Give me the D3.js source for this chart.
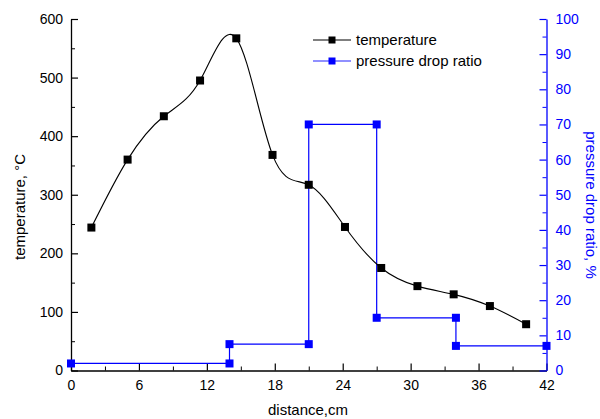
<!DOCTYPE html>
<html>
<head>
<meta charset="utf-8">
<script src="https://cdn.jsdelivr.net/npm/d3@7"></script>
<style>
  html, body { margin: 0; padding: 0; background: #fff; }
  svg { display: block; font-family: "Liberation Sans", Arial, sans-serif; }
</style>
</head>
<body>
<svg id="chart" width="600" height="419"></svg>
<script>
// ---- data ----
const tempDistance = [1.8, 5.0, 8.2, 11.4, 14.6, 17.8, 21.0, 24.2, 27.4, 30.6, 33.8, 37.0, 40.2];
const temperature  = [244, 360, 434, 495, 567, 368, 317, 245, 175, 144, 130, 110, 79];
const pressDistance = [0, 14, 14, 21, 21, 27, 27, 34, 34, 42];
const pressureDrop  = [2, 2, 7.5, 7.5, 70, 70, 15, 15, 7, 7];
const xTicks = [0, 6, 12, 18, 24, 30, 36, 42];
const yLeftTicks = [0, 100, 200, 300, 400, 500, 600];
const yRightTicks = [0, 10, 20, 30, 40, 50, 60, 70, 80, 90, 100];
const seriesNames = ["temperature", "pressure drop ratio"];

// ---- layout ----
const svg = d3.select("#chart");
const L = 71, R = 546.5, T = 19, B = 370.5;
const blue = "#0000ff";

const x = d3.scaleLinear().domain([0, 42]).range([L, R]);
const yL = d3.scaleLinear().domain([0, 600]).range([B, T]);
const yR = d3.scaleLinear().domain([0, 100]).range([B, T]);

function styleAxis(g, color) {
  g.select(".domain").attr("stroke", color).attr("stroke-width", 1.3);
  g.selectAll(".tick line").attr("stroke", color).attr("stroke-width", 1.2);
  g.selectAll(".tick text").attr("fill", color).attr("font-size", 14)
    .attr("font-family", '"Liberation Sans", Arial, sans-serif');
}

// minor ticks
const minorX = d3.range(3, 42, 6);
const minorYL = d3.range(50, 600, 100);
const minorYR = d3.range(5, 100, 10);

// bottom axis
const gx = svg.append("g").attr("transform", `translate(0,${B})`)
  .call(d3.axisBottom(x).tickValues(xTicks).tickSizeInner(-7).tickSizeOuter(0).tickPadding(10));
styleAxis(gx, "#000");
gx.selectAll(".tick text").attr("dy", "0.71em").attr("y", 10);
svg.append("g").attr("transform", `translate(0,${B})`)
  .call(d3.axisBottom(x).tickValues(minorX).tickSize(-4).tickFormat(""))
  .call(g => { g.select(".domain").remove(); g.selectAll("line").attr("stroke", "#000"); });

// left axis
const gyl = svg.append("g").attr("transform", `translate(${L},0)`)
  .call(d3.axisLeft(yL).tickValues(yLeftTicks).tickSizeInner(-7).tickSizeOuter(0).tickPadding(8));
styleAxis(gyl, "#000");
gyl.selectAll(".tick text").attr("x", -8);
svg.append("g").attr("transform", `translate(${L},0)`)
  .call(d3.axisLeft(yL).tickValues(minorYL).tickSize(-4).tickFormat(""))
  .call(g => { g.select(".domain").remove(); g.selectAll("line").attr("stroke", "#000"); });

// right axis
const gyr = svg.append("g").attr("transform", `translate(${R},0)`)
  .call(d3.axisRight(yR).tickValues(yRightTicks).tickSizeInner(-7).tickSizeOuter(0).tickPadding(8));
styleAxis(gyr, blue);
gyr.selectAll(".tick text").attr("x", 9);
svg.append("g").attr("transform", `translate(${R},0)`)
  .call(d3.axisRight(yR).tickValues(minorYR).tickSize(-4).tickFormat(""))
  .call(g => { g.select(".domain").remove(); g.selectAll("line").attr("stroke", blue); });

// ---- pressure series ----
const pData = pressDistance.map((d, i) => [d, pressureDrop[i]]);
svg.append("path").datum(pData)
  .attr("fill", "none").attr("stroke", blue).attr("stroke-width", 1.2)
  .attr("d", d3.line().x(d => x(d[0])).y(d => yR(d[1])));
svg.selectAll(".pm").data(pData).join("rect")
  .attr("x", d => x(d[0]) - 4).attr("y", d => yR(d[1]) - 4)
  .attr("width", 8).attr("height", 8).attr("fill", blue);

// ---- temperature series ----
const tData = tempDistance.map((d, i) => [d, temperature[i]]);
svg.append("path").datum(tData)
  .attr("fill", "none").attr("stroke", "#000").attr("stroke-width", 1.1)
  .attr("d", d3.line().curve(d3.curveNatural).x(d => x(d[0])).y(d => yL(d[1])));
svg.selectAll(".tm").data(tData).join("rect")
  .attr("x", d => x(d[0]) - 4).attr("y", d => yL(d[1]) - 4)
  .attr("width", 8).attr("height", 8).attr("fill", "#000");

// ---- legend ----
const legendColors = ["#555", "#6b6bff"];
const markerColors = ["#000", blue];
seriesNames.forEach((name, i) => {
  const y = 40 + i * 21;
  svg.append("line").attr("x1", 313).attr("x2", 351).attr("y1", y).attr("y2", y)
    .attr("stroke", legendColors[i]).attr("stroke-width", 1.5);
  svg.append("rect").attr("x", 332 - 3.5).attr("y", y - 3.5).attr("width", 7).attr("height", 7)
    .attr("fill", markerColors[i]);
  svg.append("text").attr("x", 356).attr("y", y + 5).attr("font-size", 15).attr("fill", "#000")
    .text(name);
});

// ---- axis titles ----
svg.append("text").attr("transform", "translate(25,207) rotate(-90)")
  .attr("text-anchor", "middle").attr("font-size", 15).attr("fill", "#000")
  .text("temperature, °C");
svg.append("text").attr("transform", "translate(586,205) rotate(90)")
  .attr("text-anchor", "middle").attr("font-size", 15).attr("fill", blue)
  .text("pressure drop ratio, %");
svg.append("text").attr("x", 308).attr("y", 415)
  .attr("text-anchor", "middle").attr("font-size", 15).attr("fill", "#000")
  .text("distance,cm");
</script>
</body>
</html>
